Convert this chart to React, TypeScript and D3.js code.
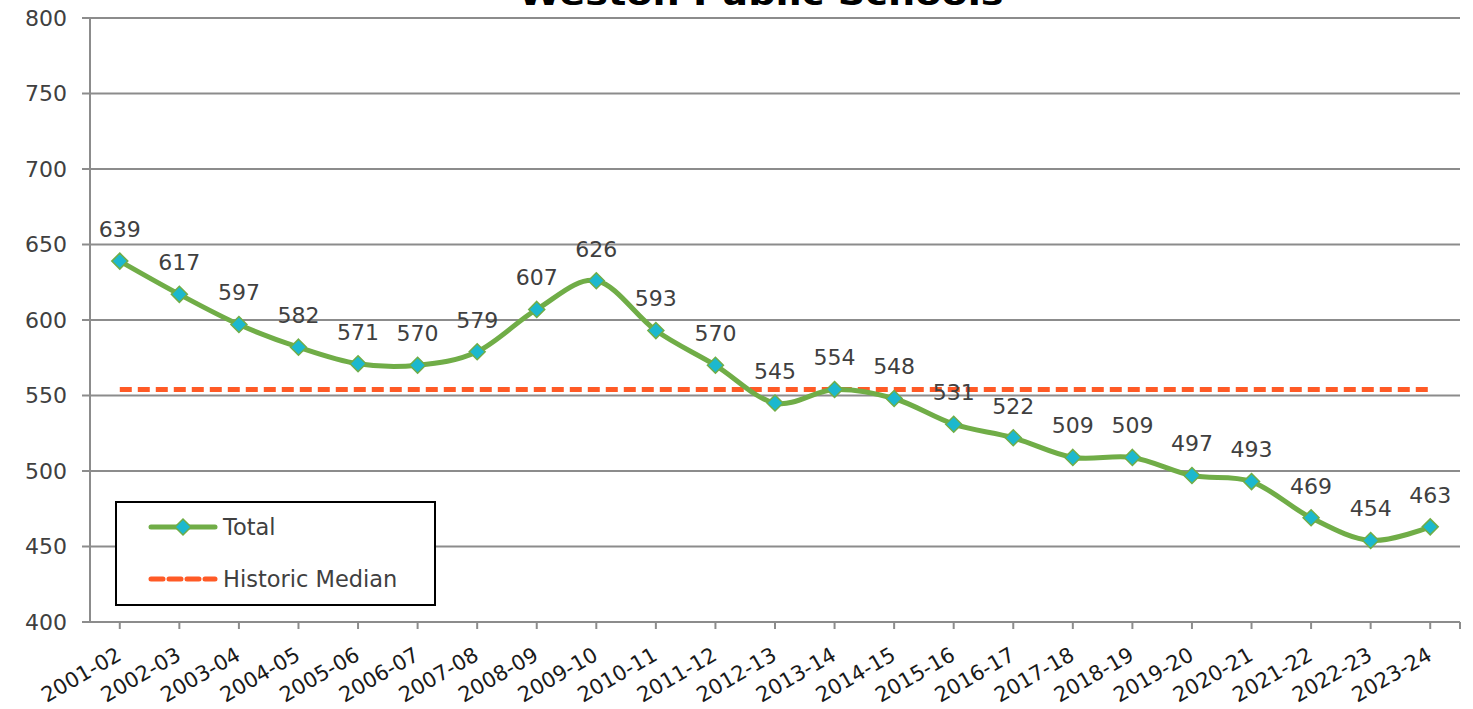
import React from 'react';
import * as d3 from 'd3';

const years = ['2001-02', '2002-03', '2003-04', '2004-05', '2005-06', '2006-07', '2007-08', '2008-09', '2009-10', '2010-11', '2011-12', '2012-13', '2013-14', '2014-15', '2015-16', '2016-17', '2017-18', '2018-19', '2019-20', '2020-21', '2021-22', '2022-23', '2023-24'];
const totals = [639, 617, 597, 582, 571, 570, 579, 607, 626, 593, 570, 545, 554, 548, 531, 522, 509, 509, 497, 493, 469, 454, 463];
const historicMedian = 554;
const yTicks = [400, 450, 500, 550, 600, 650, 700, 750, 800];

const W = 1473;
const H = 709;
const left = 90;
const right = 1460;
const top = 18;
const bottom = 622;
const font = '"DejaVu Sans", Verdana, sans-serif';
const textColor = '#404040';
const green = '#70AD47';
const cyan = '#1CB8CE';
const orange = '#FF5A26';

const App = () => {
  const x = d3.scaleBand().domain(years).range([left, right]);
  const y = d3.scaleLinear().domain([400, 800]).range([bottom, top]);
  const cx = (d: string) => (x(d) as number) + x.bandwidth() / 2;

  // excel-ish smoothed line
  const line = d3
    .line<number>()
    .x((_, i) => cx(years[i]))
    .y((d) => y(d))
    .curve(d3.curveCardinal.tension(0));

  const diamond = (px: number, py: number, r: number) =>
    `M${px},${py - r}L${px + r},${py}L${px},${py + r}L${px - r},${py}Z`;

  return (
    <svg width={W} height={H} style={{ position: 'absolute', left: 0, top: 0, background: '#fff' }}>
      <text
        x={761}
        y={5}
        textAnchor="middle"
        fontFamily={font}
        fontWeight="bold"
        fontSize={32}
        textLength={485}
        lengthAdjust="spacingAndGlyphs"
        fill="#000"
      >
        Weston Public Schools
      </text>

      {/* gridlines + y axis labels */}
      {yTicks.map((t) => (
        <g key={t}>
          <line x1={left - 8} x2={right} y1={y(t)} y2={y(t)} stroke="#8c8c8c" strokeWidth={2} />
          <text x={67} y={y(t)} dy="0.36em" textAnchor="end" fontFamily={font} fontSize={22} fill={textColor}>
            {t}
          </text>
        </g>
      ))}
      <line x1={left} x2={left} y1={top} y2={bottom} stroke="#8c8c8c" strokeWidth={2} />

      {/* x ticks + labels */}
      {years.map((d) => (
        <g key={d}>
          <line x1={cx(d)} x2={cx(d)} y1={bottom} y2={bottom + 7} stroke="#8c8c8c" strokeWidth={2} />
          <text
            transform={`translate(${cx(d) + 3},${bottom + 37}) rotate(-30)`}
            textAnchor="end"
            fontFamily={font}
            fontSize={21}
            fill="#1a1a1a"
          >
            {d}
          </text>
        </g>
      ))}
      <line x1={right} x2={right} y1={bottom} y2={bottom + 7} stroke="#8c8c8c" strokeWidth={2} />

      {/* median */}
      <line
        x1={cx(years[0])}
        x2={cx(years[years.length - 1])}
        y1={y(historicMedian)}
        y2={y(historicMedian)}
        stroke={orange}
        strokeWidth={5}
        strokeDasharray="12 6"
      />

      {/* total line */}
      <path d={line(totals) as string} fill="none" stroke={green} strokeWidth={5} strokeLinejoin="round" />
      {totals.map((v, i) => (
        <path key={i} d={diamond(cx(years[i]), y(v), 8)} fill={cyan} stroke={green} strokeWidth={1.5} />
      ))}
      {totals.map((v, i) => (
        <text
          key={`l${i}`}
          x={cx(years[i])}
          y={y(v) - 32}
          dy="0.36em"
          textAnchor="middle"
          fontFamily={font}
          fontSize={22}
          fill={textColor}
        >
          {v}
        </text>
      ))}

      {/* legend */}
      <rect x={116} y={502} width={319} height={103} fill="#fff" stroke="#000" strokeWidth={2} />
      <line x1={151} x2={215} y1={527} y2={527} stroke={green} strokeWidth={5} strokeLinecap="round" />
      <path d={diamond(183, 527, 8)} fill={cyan} stroke={green} strokeWidth={1.5} />
      <text x={223} y={527} dy="0.36em" fontFamily={font} fontSize={22.5} fill={textColor}>
        Total
      </text>
      <line x1={151} x2={215} y1={579} y2={579} stroke={orange} strokeWidth={5} strokeDasharray="12 6" strokeLinecap="round" />
      <text x={223} y={579} dy="0.36em" fontFamily={font} fontSize={22.5} fill={textColor}>
        Historic Median
      </text>
    </svg>
  );
};

export default App;
